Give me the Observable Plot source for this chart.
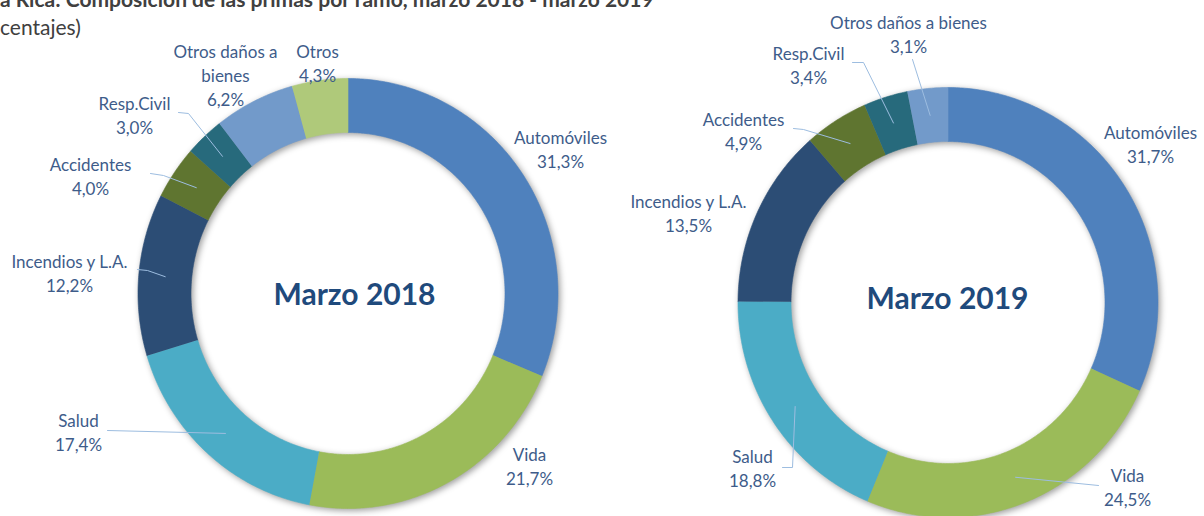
<!DOCTYPE html>
<html>
<head>
<meta charset="utf-8">
<script src="https://cdn.jsdelivr.net/npm/d3@7"></script>
<script src="https://cdn.jsdelivr.net/npm/@observablehq/plot@0.6"></script>
<style>
  html, body { margin: 0; padding: 0; width: 1204px; height: 516px; overflow: hidden; background: #fff; }
  #wrap { position: relative; width: 1204px; height: 516px; }
  #chart { position: absolute; left: 0; top: 0; }
  .title { position: absolute; left: 0; top: -11px; font-family: Lato, sans-serif; font-weight: bold; font-size: 21px; line-height: 20px; color: #404040; white-space: nowrap; }
  .subtitle { position: absolute; left: 0; top: 17px; font-family: Lato, sans-serif; font-size: 21px; line-height: 20px; color: #404040; white-space: nowrap; }
</style>
</head>
<body>
<div id="wrap">
  <div id="chart"></div>
  <div class="title">a Rica: Composición de las primas por ramo, marzo 2018 - marzo 2019</div>
  <div class="subtitle">centajes)</div>
</div>
<script>
// ---- data ----
const categories = ["Automóviles", "Vida", "Salud", "Incendios y L.A.", "Accidentes", "Resp.Civil", "Otros daños a bienes", "Otros"];
const values2018 = [31.3, 21.7, 17.4, 12.2, 4.0, 3.0, 6.2, 4.3];
const values2019 = [31.7, 24.5, 18.8, 13.5, 4.9, 3.4, 3.1, null];
const periods = ["Marzo 2018", "Marzo 2019"];
const seriesValues = [values2018, values2019];

// ---- style / layout ----
const colors = ["#4F81BD", "#9BBB59", "#4BACC6", "#2C4D75", "#5F7530", "#276A7C", "#729ACA", "#AFC97A"];
const centers = [[347.5, 293], [947.5, 302]];
const ring = { rxOuter: 210, ryOuter: 215, rxInner: 157, ryInner: 161 };
const titlePos = [[354, 295], [947, 299]];
// label block centres
const labelPos = [
  { "Automóviles": [560, 148], "Vida": [529, 465], "Salud": [78, 431], "Incendios y L.A.": [69, 272],
    "Accidentes": [90, 175], "Resp.Civil": [134, 114], "Otros daños a bienes": [225, 74], "Otros": [317, 62] },
  { "Automóviles": [1150, 143], "Vida": [1127, 486], "Salud": [752, 467], "Incendios y L.A.": [688, 212],
    "Accidentes": [743, 130], "Resp.Civil": [808, 64], "Otros daños a bienes": [908, 33] }
];
const labelWrap = [{ "Otros daños a bienes": "Otros daños a\nbienes" }, {}];
// leader waypoints after the ring-mid start point
const leaderPath = [
  { "Salud": [[107, 430]], "Incendios y L.A.": [[147, 270], [137, 269]],
    "Accidentes": [[163, 175], [150, 173]], "Resp.Civil": [[188, 113], [178, 112]] },
  { "Otros daños a bienes": [[912, 59]], "Resp.Civil": [[863, 62], [852, 62]],
    "Accidentes": [[803, 129], [793, 128]], "Salud": [[792, 467], [782, 467]], "Vida": [[1098, 485]] }
];

const fmt = v => v.toFixed(1).replace(".", ",") + "%";

// ---- build geometry from data ----
const slices = [], labels = [], leaders = [];
seriesValues.forEach((vals, ci) => {
  const [cx, cy] = centers[ci];
  const total = d3.sum(vals.filter(v => v != null));
  let acc = 0;
  categories.forEach((cat, k) => {
    const v = vals[k];
    if (v == null) return;
    const a0 = acc / total * 2 * Math.PI;
    acc += v;
    const a1 = acc / total * 2 * Math.PI;
    const key = ci + "|" + cat;
    const n = Math.max(2, Math.ceil((a1 - a0) / 0.01));
    const pts = [];
    for (let i = 0; i <= n; i++) {
      const a = a0 + (a1 - a0) * i / n;
      pts.push({ key, cat, x: cx + ring.rxOuter * Math.sin(a), y: cy - ring.ryOuter * Math.cos(a) });
    }
    for (let i = n; i >= 0; i--) {
      const a = a0 + (a1 - a0) * i / n;
      pts.push({ key, cat, x: cx + ring.rxInner * Math.sin(a), y: cy - ring.ryInner * Math.cos(a) });
    }
    slices.push(...pts);
    const am = (a0 + a1) / 2;
    const lp = labelPos[ci][cat];
    const name = labelWrap[ci][cat] || cat;
    labels.push({ x: lp[0], y: lp[1], text: name + "\n" + fmt(v) });
    const path = leaderPath[ci][cat];
    if (path) {
      const mx = cx + (ring.rxOuter + ring.rxInner) / 2 * Math.sin(am);
      const my = cy - (ring.ryOuter + ring.ryInner) / 2 * Math.cos(am);
      leaders.push({ key, x: mx, y: my });
      path.forEach(p => leaders.push({ key, x: p[0], y: p[1] }));
    }
  });
});
const titles = periods.map((p, i) => ({ text: p, x: titlePos[i][0], y: titlePos[i][1] }));

const plot = Plot.plot({
  width: 1204,
  height: 516,
  margin: 0,
  x: { domain: [0, 1204], range: [0, 1204], axis: null },
  y: { domain: [0, 516], range: [0, 516], axis: null },
  color: { domain: categories, range: colors },
  style: { background: "transparent", fontFamily: "Lato, sans-serif", overflow: "visible" },
  marks: [
    Plot.line(slices, { x: "x", y: "y", z: "key", fill: "cat", stroke: "cat", strokeWidth: 0.6, curve: "linear" }),
    Plot.line(leaders, { x: "x", y: "y", z: "key", stroke: "#9DBDE0", strokeWidth: 1, curve: "linear" }),
    Plot.text(labels, { x: "x", y: "y", text: "text", fill: "#3E5C8A", fontSize: 17, lineHeight: 1.41, lineAnchor: "middle", textAnchor: "middle" }),
    Plot.text(titles, { x: "x", y: "y", text: "text", fill: "#1F4A7C", fontSize: 30, fontWeight: "bold", lineAnchor: "middle", textAnchor: "middle" })
  ]
});
document.getElementById("chart").appendChild(plot);
// soft Excel-style shadow on the rings (first line mark)
const ringGroup = plot.querySelector('g[aria-label="line"]');
if (ringGroup) ringGroup.style.filter = "drop-shadow(2px 2px 3px rgba(0,0,0,0.38))";
</script>
</body>
</html>
